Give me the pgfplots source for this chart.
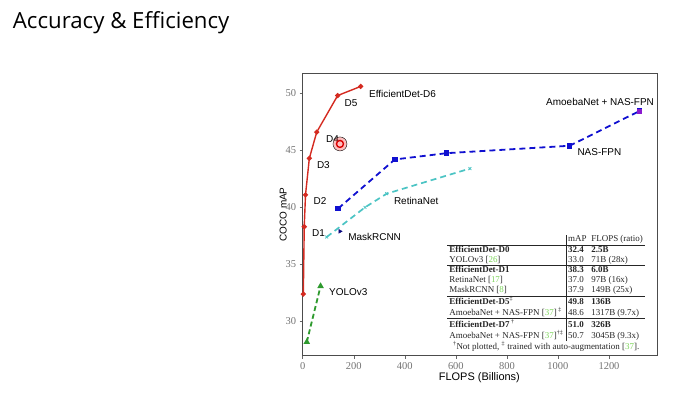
\documentclass[border=0pt]{standalone}
\usepackage{pgfplots}
\pgfplotsset{compat=1.18}
\usepackage{fontspec}
\setmainfont{Liberation Sans}
\newfontfamily\tms{Liberation Serif}
\newfontfamily\titlefont{Open Sans}
\definecolor{effred}{HTML}{D42A20}
\definecolor{nasblue}{HTML}{1010D0}
\definecolor{retcyan}{HTML}{4CC4C4}
\definecolor{yologreen}{HTML}{2E9A2E}
\definecolor{maskblue}{HTML}{0A0A80}
\definecolor{amoeba}{HTML}{8A1ACF}
\definecolor{refgreen}{HTML}{7CD45A}
\newcommand{\lbl}{\fontsize{10}{12}\selectfont}
\newcommand{\rf}[1]{[\textcolor{refgreen}{#1}]}
\begin{document}
\begin{tikzpicture}
\useasboundingbox (0,0) rectangle (678bp,-396bp);
\node[anchor=base west, inner sep=0pt, font=\titlefont\fontsize{22.3}{26}\selectfont] at (12.7bp,-28.3bp) {Accuracy \& Efficiency};
\begin{axis}[
  at={(302.7bp,-355.7bp)}, anchor=south west,
  scale only axis, width=354.8bp, height=282.4bp,
  xmin=0, xmax=1390, ymin=27, ymax=51.75,
  xtick={0,200,...,1200}, ytick={30,35,...,50},
  tick align=outside, xtick pos=bottom, ytick pos=left,
  major tick length=3bp,
  tick style={black!60, line width=0.5bp},
  axis line style={black!70, line width=0.6bp},
  tick label style={font=\tms\fontsize{10.5}{12}\selectfont, text=black!55},
  /pgf/number format/assume math mode=true,
  /pgf/number format/1000 sep={},
  xlabel={FLOPS (Billions)}, ylabel={COCO mAP},
  xlabel style={at={(axis description cs:0.498,-0.078)}, anchor=center, font=\fontsize{11}{13}\selectfont},
  ylabel style={at={(axis description cs:-0.0547,0.5)}, anchor=center, font=\fontsize{10}{12}\selectfont},
  clip=false,
]
\addplot[yologreen, line width=1.8bp, dash pattern=on 5bp off 3bp, mark=triangle*, mark size=2bp, mark options={solid}] coordinates {(16,28.2)(70,33.1)};
\addplot[retcyan, line width=1.7bp, dash pattern=on 6bp off 4bp, mark=x, mark size=2bp, mark options={solid, line width=0.8bp}] coordinates {(94,37.4)(244,40.0)(329,41.2)(655,43.4)};
\addplot[nasblue, line width=1.8bp, dash pattern=on 6bp off 4bp, mark=square*, mark size=1.9bp, mark options={solid}] coordinates {(139,39.9)(361,44.2)(564,44.75)(1046,45.4)(1320,48.45)};
\addplot[only marks, amoeba, mark=square*, mark size=2bp] coordinates {(1320,48.45)};
\addplot[only marks, maskblue, mark=triangle*, mark size=2.2bp, mark options={rotate=-90}] coordinates {(146,37.9)};
\addplot[effred, line width=1.4bp, mark=*, mark size=1.8bp] coordinates {(2.5,32.4)(6,38.3)(11,41.1)(26,44.3)(55,46.6)(137,49.8)(227,50.6)};

\node[anchor=west, inner sep=0pt, font=\lbl] at (axis cs:259.5,49.95) {EfficientDet-D6};
\node[anchor=center, inner sep=0pt, font=\lbl] at (axis cs:189,49.12) {D5};
\node[anchor=center, inner sep=0pt, font=\lbl] at (axis cs:117,46.0) {D4};
\node[anchor=center, inner sep=0pt, font=\lbl] at (axis cs:81,43.75) {D3};
\node[anchor=center, inner sep=0pt, font=\lbl] at (axis cs:68,40.57) {D2};
\node[anchor=center, inner sep=0pt, font=\lbl] at (axis cs:62,37.74) {D1};
\node[anchor=west, inner sep=0pt, font=\lbl] at (axis cs:178,37.39) {MaskRCNN};
\node[anchor=west, inner sep=0pt, font=\lbl] at (axis cs:103,32.57) {YOLOv3};
\node[anchor=west, inner sep=0pt, font=\lbl] at (axis cs:357,40.54) {RetinaNet};
\node[anchor=west, inner sep=0pt, font=\lbl] at (axis cs:1076,44.83) {NAS-FPN};
\node[anchor=center, inner sep=0pt, font=\lbl] at (axis cs:1165,49.21) {AmoebaNet + NAS-FPN};

\node[anchor=south east, inner sep=0pt, xshift=-12bp, yshift=3.5bp, font=\tms\fontsize{9}{10}\selectfont, text=black!85] at (rel axis cs:1,0) {%
\setlength{\tabcolsep}{2.4bp}\renewcommand{\arraystretch}{1.0}%
\begin{tabular}{l|ll}
 & mAP & FLOPS (ratio) \\ \hline
\textbf{EfficientDet-D0} & \textbf{32.4} & \textbf{2.5B}\\
YOLOv3 \rf{26} & 33.0 & 71B (28x)\\
\noalign{\global\arrayrulewidth=0.8pt}\hline\noalign{\global\arrayrulewidth=0.4pt}
\textbf{EfficientDet-D1} & \textbf{38.3} & \textbf{6.0B}\\
RetinaNet \rf{17} & 37.0 & 97B (16x)\\
MaskRCNN \rf{8} & 37.9 & 149B (25x)\\
\noalign{\global\arrayrulewidth=0.8pt}\hline\noalign{\global\arrayrulewidth=0.4pt}
\textbf{EfficientDet-D5}\textsuperscript{‡} & \textbf{49.8} & \textbf{136B}\\
AmoebaNet + NAS-FPN \rf{37}\,\textsuperscript{‡} & 48.6 & 1317B (9.7x)\\
\noalign{\global\arrayrulewidth=0.8pt}\hline\noalign{\global\arrayrulewidth=0.4pt}
\textbf{EfficientDet-D7}\,\textsuperscript{†} & \textbf{51.0} & \textbf{326B}\\
AmoebaNet + NAS-FPN \rf{37}\textsuperscript{†‡} & 50.7 & 3045B (9.3x)\\
\multicolumn{3}{c}{\textsuperscript{†}Not plotted, \textsuperscript{‡} trained with auto-augmentation \rf{37}.}
\end{tabular}};

\addplot[only marks, mark=*, mark size=7bp, mark options={draw=none, fill=red, fill opacity=0.25}] coordinates {(146,45.56)};
\addplot[only marks, mark=*, mark size=3.5bp, mark options={draw=red!85!black, line width=1.4bp, fill=red!25}] coordinates {(146,45.56)};
\end{axis}
\end{tikzpicture}
\end{document}
